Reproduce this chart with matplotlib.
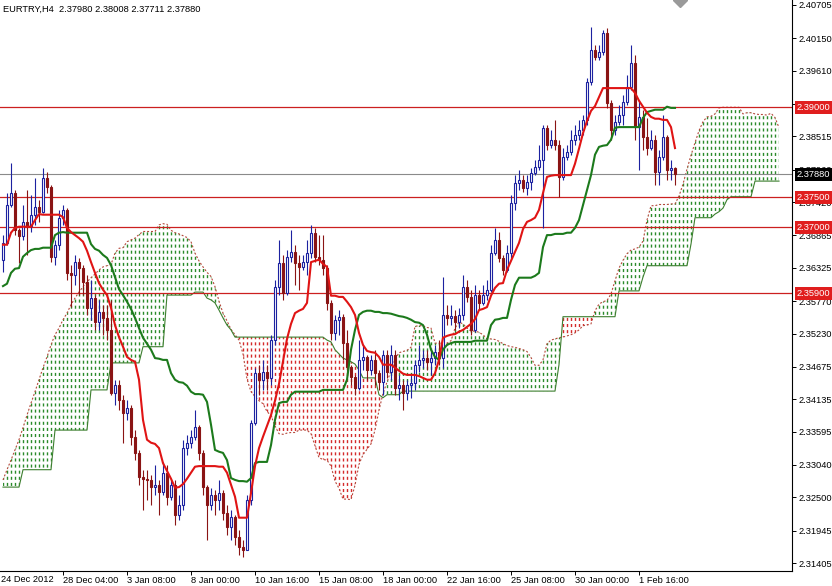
import numpy as np
import matplotlib
matplotlib.use('Agg')
import matplotlib.pyplot as plt
from matplotlib.collections import LineCollection
from matplotlib.path import Path
from matplotlib.patches import Rectangle

plt.rcParams['font.family'] = ['Liberation Sans', 'DejaVu Sans']
plt.rcParams['lines.scale_dashes'] = False

# ---------------- data ----------------
symbol_title = "EURTRY,H4  2.37980 2.38008 2.37711 2.37880"
first_open = 2.3646

closes = [
    2.3674, 2.3737, 2.3757, 2.3696, 2.3686, 2.3709, 2.3702, 2.3721, 2.3734, 2.3726,
    2.3782, 2.3767, 2.3651, 2.3671, 2.3716, 2.3729, 2.3624, 2.3621, 2.3642, 2.3632,
    2.3609, 2.3566, 2.3582, 2.3542, 2.3559, 2.3549, 2.3529, 2.3424, 2.3437, 2.3412,
    2.3391, 2.3399, 2.3351, 2.3324, 2.3284, 2.3281, 2.3279, 2.3267, 2.3271, 2.3259,
    2.3291, 2.3251, 2.3271, 2.3221, 2.3237, 2.3332, 2.3341, 2.3351, 2.3367, 2.3324,
    2.3267, 2.3237, 2.3254, 2.3246, 2.3257, 2.3224, 2.3201, 2.3217, 2.3184, 2.3167,
    2.3162, 2.3246, 2.3374, 2.3457, 2.3446, 2.3459, 2.3449, 2.3512, 2.3601, 2.3641,
    2.3591, 2.3651, 2.3659, 2.3641, 2.3634, 2.3642, 2.3657, 2.3691, 2.3651, 2.3646,
    2.3632, 2.3574, 2.3524, 2.3546, 2.3551, 2.3507, 2.3467, 2.3451, 2.3432, 2.3479,
    2.3484, 2.3462, 2.3479, 2.3457, 2.3442, 2.3487, 2.3459, 2.3487, 2.3432, 2.3437,
    2.3424, 2.3437, 2.3441, 2.3471, 2.3479, 2.3482, 2.3476, 2.3482, 2.3492, 2.3482,
    2.3554, 2.3549, 2.3552, 2.3542, 2.3554, 2.3601, 2.3584, 2.3529, 2.3587, 2.3574,
    2.3587, 2.3596, 2.3657, 2.3679, 2.3649, 2.3629, 2.3657, 2.3741, 2.3774, 2.3779,
    2.3766, 2.3776, 2.3791, 2.3801, 2.3812, 2.3866, 2.3837, 2.3846, 2.3837, 2.3784,
    2.3817, 2.3826, 2.3846, 2.3854, 2.3862, 2.3879, 2.3942, 2.3996, 2.3984, 2.3992,
    2.4024, 2.3907, 2.3862, 2.3876, 2.3887, 2.3909, 2.3934, 2.3974, 2.3867, 2.3884,
    2.3851, 2.3832, 2.3846, 2.3792, 2.3817, 2.3851, 2.3796, 2.3799, 2.37880,
]
highs = [
    2.3687, 2.3757, 2.3807, 2.3762, 2.3699, 2.3737, 2.3762, 2.3754, 2.3782, 2.3746,
    2.3799, 2.3792, 2.3771, 2.3679, 2.3729, 2.3737, 2.3732, 2.3637, 2.3654, 2.3649,
    2.3637, 2.3621, 2.3612, 2.3587, 2.3579, 2.3571, 2.3571, 2.3579, 2.3446, 2.3446,
    2.3421, 2.3412, 2.3404, 2.3362, 2.3329, 2.3296, 2.3296, 2.3287, 2.3304, 2.3279,
    2.3309, 2.3304, 2.3279, 2.3279, 2.3254, 2.3346, 2.3354, 2.3362, 2.3396, 2.3371,
    2.3329, 2.3271, 2.3266, 2.3262, 2.3279, 2.3262, 2.3237, 2.3229, 2.3221, 2.3196,
    2.3179, 2.3254, 2.3379, 2.3466, 2.3471, 2.3479, 2.3471, 2.3521, 2.3612, 2.3679,
    2.3654, 2.3662, 2.3696, 2.3671, 2.3654, 2.3654, 2.3679, 2.3704, 2.3699, 2.3687,
    2.3687, 2.3637, 2.3579, 2.3554, 2.3562, 2.3556, 2.3529, 2.3471, 2.3454, 2.3512,
    2.3504, 2.3487, 2.3487, 2.3496, 2.3462, 2.3496, 2.3496, 2.3504, 2.3496, 2.3454,
    2.3446, 2.3446, 2.3454, 2.3479, 2.3504, 2.3496, 2.3496, 2.3496, 2.3504, 2.3512,
    2.3617, 2.3571, 2.3571, 2.3562, 2.3566, 2.3621, 2.3612, 2.3596, 2.3604, 2.3596,
    2.3604, 2.3612, 2.3671, 2.3699, 2.3692, 2.3654, 2.3671, 2.3754, 2.3787, 2.3796,
    2.3787, 2.3787, 2.3799, 2.3812, 2.3837, 2.3871, 2.3871, 2.3862, 2.3879, 2.3846,
    2.3832, 2.3837, 2.3862, 2.3871, 2.3879, 2.3887, 2.3949, 2.4034, 2.4004, 2.4004,
    2.4029, 2.4032, 2.3912, 2.3887, 2.3904, 2.3921, 2.3954, 2.4004, 2.3987, 2.3912,
    2.3895, 2.3882, 2.3862, 2.3854, 2.3829, 2.3887, 2.3854, 2.3812, 2.38008,
]
lows = [
    2.3626, 2.3671, 2.3734, 2.3687, 2.3641, 2.3679, 2.3654, 2.3692, 2.3704, 2.3709,
    2.3724, 2.3757, 2.3642, 2.3637, 2.3662, 2.3704, 2.3612, 2.3567, 2.3604, 2.3587,
    2.3587, 2.3554, 2.3546, 2.3529, 2.3529, 2.3521, 2.3512, 2.3421, 2.3404, 2.3396,
    2.3341, 2.3379, 2.3337, 2.3312, 2.3271, 2.3229, 2.3246, 2.3237, 2.3254, 2.3221,
    2.3254, 2.3237, 2.3246, 2.3204, 2.3212, 2.3229, 2.3321, 2.3332, 2.3346, 2.3312,
    2.3254, 2.3179, 2.3229, 2.3221, 2.3229, 2.3212, 2.3187, 2.3179, 2.3171, 2.3154,
    2.3151, 2.3162, 2.3237, 2.3371, 2.3421, 2.3429, 2.3429, 2.3437, 2.3504, 2.3587,
    2.3579, 2.3587, 2.3642, 2.3604, 2.3596, 2.3629, 2.3621, 2.3649, 2.3642, 2.3637,
    2.3621, 2.3562, 2.3512, 2.3512, 2.3521, 2.3479, 2.3459, 2.3437, 2.3421, 2.3429,
    2.3462, 2.3446, 2.3454, 2.3437, 2.3429, 2.3421, 2.3449, 2.3446, 2.3421, 2.3412,
    2.3396, 2.3412, 2.3416, 2.3429, 2.3459, 2.3466, 2.3462, 2.3454, 2.3471, 2.3471,
    2.3466, 2.3537, 2.3537, 2.3529, 2.3532, 2.3546, 2.3576, 2.3521, 2.3526, 2.3562,
    2.3571, 2.3579, 2.3592, 2.3654, 2.3642, 2.3621, 2.3626, 2.3649, 2.3729, 2.3762,
    2.3759, 2.3754, 2.3762, 2.3787, 2.3796, 2.3699, 2.3829, 2.3832, 2.3829, 2.3751,
    2.3779, 2.3812, 2.3821, 2.3837, 2.3846, 2.3854, 2.3871, 2.3937, 2.3979, 2.3979,
    2.3987, 2.3899, 2.3846, 2.3854, 2.3871, 2.3871, 2.3904, 2.3929, 2.3846, 2.3796,
    2.3829, 2.3821, 2.3829, 2.3771, 2.3771, 2.3812, 2.3779, 2.3779, 2.37711,
]
tenkan = [
    2.3671, 2.3671, 2.3691, 2.3699, 2.3701, 2.3701, 2.3701, 2.3701, 2.3712, 2.3722,
    2.3721, 2.3721, 2.3721, 2.3721, 2.3721, 2.3717, 2.3699, 2.3692, 2.3687, 2.3682,
    2.3676, 2.3661, 2.3642, 2.3624, 2.3607, 2.3596, 2.3587, 2.3566, 2.3537, 2.3517,
    2.3501, 2.3484, 2.3479, 2.3476, 2.3446, 2.3379, 2.3346, 2.3341, 2.3339, 2.3332,
    2.3307, 2.3294, 2.3281, 2.3266, 2.3267, 2.3272, 2.3281, 2.3291, 2.3301, 2.3302,
    2.3302, 2.3302, 2.3302, 2.3302, 2.3301, 2.3301, 2.3291, 2.3271, 2.3251, 2.3216,
    2.3216, 2.3216, 2.3257, 2.3302, 2.3332, 2.3351, 2.3369, 2.3387, 2.3411, 2.3439,
    2.3476, 2.3514, 2.3539, 2.3557, 2.3561, 2.3564, 2.3574, 2.3642, 2.3644, 2.3646,
    2.3639, 2.3634, 2.3586, 2.3586, 2.3584, 2.3584, 2.3576, 2.3567, 2.3554, 2.3524,
    2.3504, 2.3494, 2.3492, 2.3491, 2.3484, 2.3471, 2.3471, 2.3471, 2.3466, 2.3461,
    2.3456, 2.3454, 2.3454, 2.3454, 2.3452, 2.3449, 2.3446, 2.3446, 2.3457, 2.3479,
    2.3516, 2.3519, 2.3521, 2.3522, 2.3526, 2.3529, 2.3534, 2.3539, 2.3547, 2.3562,
    2.3564, 2.3567, 2.3586, 2.3599, 2.3606, 2.3607, 2.3629, 2.3644, 2.3659, 2.3674,
    2.3697, 2.3709, 2.3712, 2.3716, 2.3729, 2.3757, 2.3784, 2.3786, 2.3787, 2.3787,
    2.3787, 2.3787, 2.3787, 2.3806, 2.3831, 2.3857, 2.3877, 2.3894, 2.3902, 2.3917,
    2.3932, 2.3932, 2.3932, 2.3932, 2.3932, 2.3932, 2.3932, 2.3932, 2.3924, 2.3911,
    2.3901, 2.3891, 2.3884, 2.3881, 2.3881, 2.3879, 2.3879, 2.3867, 2.3832,
]
kijun = [
    2.3602, 2.3606, 2.3624, 2.3631, 2.3632, 2.3651, 2.3657, 2.3662, 2.3664, 2.3664,
    2.3666, 2.3666, 2.3666, 2.3687, 2.3691, 2.3692, 2.3691, 2.3691, 2.3691, 2.3691,
    2.3691, 2.3691, 2.3672, 2.3664, 2.3661, 2.3654, 2.3649, 2.3637, 2.3617, 2.3597,
    2.3587, 2.3576, 2.3564, 2.3549, 2.3532, 2.3516, 2.3506, 2.3496, 2.3482, 2.3481,
    2.3479, 2.3479, 2.3457, 2.3446, 2.3442, 2.3441, 2.3436, 2.3426, 2.3422, 2.3422,
    2.3421, 2.3409, 2.3371, 2.3329, 2.3326, 2.3324, 2.3312, 2.3282, 2.3279, 2.3277,
    2.3277, 2.3276, 2.3282, 2.3307, 2.3309, 2.3309, 2.3309, 2.3337, 2.3379, 2.3407,
    2.3409, 2.3409, 2.3421, 2.3426, 2.3426, 2.3426, 2.3426, 2.3426, 2.3426, 2.3426,
    2.3429, 2.3429, 2.3429, 2.3429, 2.3429, 2.3429, 2.3446, 2.3496, 2.3529, 2.3554,
    2.3559, 2.3561, 2.3561, 2.3559, 2.3559, 2.3557, 2.3557, 2.3556, 2.3554, 2.3552,
    2.3551, 2.3549, 2.3546, 2.3542, 2.3541, 2.3537, 2.3521, 2.3496, 2.3484, 2.3479,
    2.3496, 2.3504, 2.3507, 2.3509, 2.3509, 2.3509, 2.3509, 2.3509, 2.3511, 2.3511,
    2.3511, 2.3511, 2.3537, 2.3546, 2.3547, 2.3549, 2.3549, 2.3579, 2.3604, 2.3616,
    2.3616, 2.3616, 2.3616, 2.3619, 2.3624, 2.3667, 2.3687, 2.3687, 2.3689, 2.3689,
    2.3689, 2.3691, 2.3691, 2.3699, 2.3712, 2.3737, 2.3762, 2.3787, 2.3821, 2.3834,
    2.3836, 2.3837, 2.3846, 2.3866, 2.3867, 2.3867, 2.3867, 2.3867, 2.3867, 2.3867,
    2.3882, 2.3892, 2.3894, 2.3896, 2.3896, 2.3896, 2.3901, 2.3899, 2.3899,
]
span_a = [
    2.3279, 2.3296, 2.3312, 2.3329, 2.3346, 2.3366, 2.3387, 2.3407, 2.3426, 2.3446,
    2.3466, 2.3484, 2.3504, 2.3521, 2.3532, 2.3546, 2.3557, 2.3571, 2.3582, 2.3592,
    2.3601, 2.3609, 2.3616, 2.3622, 2.3629, 2.3634, 2.3636, 2.3638, 2.3657, 2.3665,
    2.3666, 2.3676, 2.3679, 2.3682, 2.3688, 2.3693, 2.3693, 2.3693, 2.3693, 2.3704,
    2.3706, 2.3705, 2.3695, 2.3691, 2.3689, 2.3686, 2.3683, 2.3676, 2.3657, 2.3644,
    2.3634, 2.3625, 2.3618, 2.3601, 2.3577, 2.3557, 2.3544, 2.3530, 2.3521, 2.3512,
    2.3489, 2.3447, 2.3426, 2.3418, 2.3411, 2.3406, 2.3393, 2.3386, 2.3369, 2.3356,
    2.3355, 2.3357, 2.3358, 2.3358, 2.3362, 2.3362, 2.3362, 2.3356, 2.3336, 2.3316,
    2.3313, 2.3312, 2.3302, 2.3277, 2.3265, 2.3247, 2.3247, 2.3246, 2.3270, 2.3305,
    2.3321, 2.3330, 2.3339, 2.3362, 2.3395, 2.3423, 2.3442, 2.3461, 2.3480, 2.3491,
    2.3493, 2.3495, 2.3500, 2.3535, 2.3536, 2.3536, 2.3533, 2.3532, 2.3507, 2.3507,
    2.3507, 2.3507, 2.3511, 2.3532, 2.3542, 2.3539, 2.3532, 2.3527, 2.3527, 2.3525,
    2.3521, 2.3514, 2.3514, 2.3513, 2.3510, 2.3506, 2.3503, 2.3501, 2.3500, 2.3498,
    2.3496, 2.3493, 2.3483, 2.3470, 2.3470, 2.3479, 2.3506, 2.3512, 2.3514, 2.3516,
    2.3517, 2.3519, 2.3521, 2.3524, 2.3529, 2.3536, 2.3537, 2.3539, 2.3561, 2.3572,
    2.3576, 2.3578, 2.3589, 2.3611, 2.3632, 2.3645, 2.3656, 2.3662, 2.3664, 2.3667,
    2.3677, 2.3712, 2.3736, 2.3736, 2.3738, 2.3738, 2.3738, 2.3739, 2.3739, 2.3752,
    2.3772, 2.3797, 2.3820, 2.3841, 2.3861, 2.3876, 2.3884, 2.3885, 2.3889, 2.3899,
    2.3900, 2.3900, 2.3900, 2.3900, 2.3900, 2.3889, 2.3891, 2.3891, 2.3889, 2.3888,
    2.3888, 2.3887, 2.3890, 2.3883, 2.3866,
]
span_b = [
    2.3267, 2.3267, 2.3267, 2.3267, 2.3267, 2.3296, 2.3296, 2.3296, 2.3296, 2.3296,
    2.3296, 2.3296, 2.3296, 2.3362, 2.3362, 2.3362, 2.3362, 2.3362, 2.3362, 2.3362,
    2.3362, 2.3362, 2.3429, 2.3429, 2.3429, 2.3429, 2.3429, 2.3474, 2.3474, 2.3474,
    2.3474, 2.3474, 2.3474, 2.3474, 2.3474, 2.3501, 2.3501, 2.3501, 2.3501, 2.3501,
    2.3501, 2.3587, 2.3587, 2.3587, 2.3587, 2.3587, 2.3587, 2.3587, 2.3592, 2.3592,
    2.3592, 2.3582, 2.3579, 2.3574, 2.3562, 2.3549, 2.3537, 2.3529, 2.3517, 2.3517,
    2.3517, 2.3517, 2.3517, 2.3517, 2.3517, 2.3517, 2.3517, 2.3517, 2.3517, 2.3517,
    2.3517, 2.3517, 2.3517, 2.3517, 2.3517, 2.3517, 2.3517, 2.3517, 2.3517, 2.3517,
    2.3517, 2.3512, 2.3509, 2.3496, 2.3489, 2.3482, 2.3479, 2.3476, 2.3472, 2.3462,
    2.3449, 2.3449, 2.3449, 2.3449, 2.3421, 2.3416, 2.3421, 2.3421, 2.3421, 2.3421,
    2.3427, 2.3427, 2.3427, 2.3427, 2.3427, 2.3427, 2.3427, 2.3427, 2.3427, 2.3427,
    2.3427, 2.3427, 2.3427, 2.3427, 2.3427, 2.3427, 2.3427, 2.3427, 2.3427, 2.3427,
    2.3427, 2.3427, 2.3427, 2.3427, 2.3427, 2.3427, 2.3427, 2.3427, 2.3427, 2.3427,
    2.3427, 2.3427, 2.3427, 2.3427, 2.3427, 2.3427, 2.3427, 2.3427, 2.3427, 2.3471,
    2.3551, 2.3551, 2.3551, 2.3551, 2.3551, 2.3551, 2.3551, 2.3551, 2.3551, 2.3551,
    2.3551, 2.3551, 2.3551, 2.3551, 2.3594, 2.3594, 2.3594, 2.3594, 2.3594, 2.3594,
    2.3617, 2.3636, 2.3636, 2.3636, 2.3636, 2.3636, 2.3636, 2.3636, 2.3636, 2.3636,
    2.3636, 2.3636, 2.3672, 2.3716, 2.3716, 2.3716, 2.3716, 2.3716, 2.3722, 2.3726,
    2.3732, 2.3746, 2.3751, 2.3751, 2.3751, 2.3751, 2.3751, 2.3751, 2.3777, 2.3777,
    2.3777, 2.3777, 2.3777, 2.3777, 2.3777,
]

level_lines = [2.39000, 2.37500, 2.37000, 2.35900]
last_price = 2.37880
y_ticks = [2.40705, 2.40150, 2.39610, 2.39055, 2.38515, 2.37960, 2.37420, 2.36865,
           2.36325, 2.35770, 2.35230, 2.34675, 2.34135, 2.33595, 2.33040, 2.32500,
           2.31945, 2.31405]
x_tick_bars = [15, 31, 47, 63, 79, 95, 111, 127, 143, 159]
x_tick_labels = ['28 Dec 04:00', '3 Jan 08:00', '8 Jan 00:00', '10 Jan 16:00',
                 '15 Jan 08:00', '18 Jan 00:00', '22 Jan 16:00', '25 Jan 08:00',
                 '30 Jan 00:00', '1 Feb 16:00']
first_x_label = '24 Dec 2012'

# ---------------- style ----------------
BULL = '#1c22a0'
BEAR = '#8a1414'
TENKAN = '#e01414'
KIJUN = '#1c7a1c'
CLOUD_G = '#2a8a2a'
CLOUD_R = '#d42a2a'
LEVEL = '#cc2020'
FS = 6.7

W, H = 832, 586
fig = plt.figure(figsize=(W / 100, H / 100), dpi=100)
ax = fig.add_axes([0, 15 / H, 792 / W, 571 / H])
ymin, ymax = 2.312717, 2.407883
ax.set_xlim(-0.75, 197.25)
ax.set_ylim(ymin, ymax)

# ---------------- cloud ----------------
a = np.array(span_a)
b = np.array(span_b)
jx = np.arange(len(a))
for mask, col in [(a >= b, CLOUD_G), (a < b, CLOUD_R)]:
    pc = ax.fill_between(jx, a, b, where=mask, interpolate=True,
                         facecolor='none', edgecolor='none', linewidth=0)
    paths = pc.get_paths()
    pc.remove()
    if len(paths) == 0:
        continue
    clip = Path.make_compound_path(*paths)
    segs = [[(x, ymin), (x, ymax)] for x in jx]
    lc = LineCollection(segs, colors=col, linewidths=1.0,
                        linestyles=[(0, (2.2, 2.2))], zorder=1)
    lc.set_clip_path(clip, ax.transData)
    ax.add_collection(lc)

ax.plot(jx, a, color='#b5473a', lw=0.8, ls=(0, (1.4, 1.4)), zorder=1.5)
ax.plot(jx, b, color='#3d7f2f', lw=0.8, zorder=1.5)

# ---------------- level lines ----------------
for v in level_lines:
    ax.axhline(v, color=LEVEL, lw=0.9, zorder=2)
ax.axhline(last_price, color='#8a8a8a', lw=0.8, zorder=2)

# ---------------- candles ----------------
n = len(closes)
opens = [first_open] + closes[:-1]
for i in range(n):
    o, c, h, l = opens[i], closes[i], highs[i], lows[i]
    bull = c >= o
    col = BULL if bull else BEAR
    ax.vlines(i, l, h, color=col, lw=0.8, zorder=3)
    ax.add_patch(Rectangle((i - 0.32, min(o, c)), 0.64, max(abs(c - o), 0.00006),
                           facecolor='white' if bull else BEAR, edgecolor=col,
                           lw=0.8, zorder=4))

# ---------------- ichimoku lines ----------------
xs = np.arange(n)
ax.plot(xs, kijun, color=KIJUN, lw=1.5, zorder=5, solid_joinstyle='round')
ax.plot(xs, tenkan, color=TENKAN, lw=1.5, zorder=6, solid_joinstyle='round')

# chart-shift marker
ax.plot([169.25], [ymax], marker='D', ms=7, color='#9a9a9a', zorder=7, clip_on=True)

# ---------------- axes ----------------
for s in ['top', 'left']:
    ax.spines[s].set_visible(False)
for s in ['right', 'bottom']:
    ax.spines[s].set_color('black')
    ax.spines[s].set_linewidth(0.8)
ax.yaxis.tick_right()
ax.set_yticks(y_ticks)
ax.set_yticklabels([f'{v:.5f}' for v in y_ticks])
ax.tick_params(axis='y', direction='out', length=3, width=0.7, pad=1.5,
               labelsize=FS, colors='black')
ax.set_xticks(x_tick_bars)
ax.set_xticklabels(x_tick_labels, ha='left')
ax.tick_params(axis='x', direction='out', length=3, width=0.7, pad=0.5,
               labelsize=FS, colors='black')
ax.annotate(first_x_label, xy=(0, 0), xycoords='axes fraction',
            xytext=(1, -2.7), textcoords='offset points', ha='left', va='top',
            fontsize=FS, annotation_clip=False)

# price boxes on the right
for v in level_lines:
    ax.annotate(f'{v:.5f}', xy=(1, v), xycoords=('axes fraction', 'data'),
                xytext=(3.6, 0), textcoords='offset points', ha='left', va='center',
                color='white', fontsize=FS, annotation_clip=False, zorder=10,
                bbox=dict(boxstyle='square,pad=0.22', fc='#e01e1e', ec='none'))
ax.annotate(f'{last_price:.5f}', xy=(1, last_price), xycoords=('axes fraction', 'data'),
            xytext=(3.6, 0), textcoords='offset points', ha='left', va='center',
            color='white', fontsize=FS, annotation_clip=False, zorder=10,
            bbox=dict(boxstyle='square,pad=0.22', fc='black', ec='none'))

fig.text(3 / W, 1 - 9 / H, symbol_title, fontsize=FS, ha='left', va='center', color='black')

fig.savefig('out.png', dpi=100)
